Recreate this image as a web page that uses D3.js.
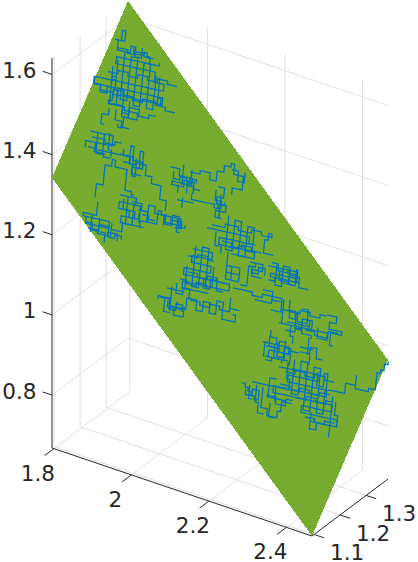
<!DOCTYPE html>
<html><head><meta charset="utf-8">
<script src="https://cdnjs.cloudflare.com/ajax/libs/d3/7.8.5/d3.min.js"></script>
<style>html,body{margin:0;padding:0;background:#fff}svg{display:block}</style>
</head><body><svg id="c" width="418" height="562"></svg>
<script>
const xLimits=[1.795,2.466], yLimits=[1.092,1.384], zLimits=[0.668,1.641];
const xTicks=[1.8,2,2.2,2.4], yTicks=[1.1,1.2,1.3], zTicks=[0.8,1,1.2,1.4,1.6];
const xTickLabels=["1.8","2","2.2","2.4"], yTickLabels=["1.1","1.2","1.3"], zTickLabels=["0.8","1","1.2","1.4","1.6"];
const planeX=[1.795,2.466,2.466,1.795], planeY=[1.092,1.092,1.384,1.384], planeZ=[1.342,0.668,0.965,1.641];
const walkY=1.2;
const stepX=0.0085, stepZEast=0.001, stepYNorth=0.00135, stepZNorth=0.0078;
const walkStartX=[1.885,1.911,1.877,1.880,1.870,1.821,1.841,1.898,1.919,1.841,1.826,1.877,1.877,1.898,1.919,1.945,1.955,1.931,1.916,2.027,2.063,2.079,2.045,2.060,2.084,2.071,2.151,2.159,2.122,2.179,2.177,2.187,2.086,2.094,2.071,1.996,2.019,2.032,2.014,2.027,2.068,2.184,2.189,2.264,2.208,2.233,2.280,2.303,2.267,2.246,2.321,2.308,2.442,2.432,2.329,2.367,2.337,2.388,2.267,2.272,2.288,2.298,2.326,2.339,2.362,2.386,2.388,2.308,2.342,2.349,2.447,2.213,2.239,2.267,2.277,2.285,2.233,2.435,
1.867,1.893,1.846,1.880,1.888,1.893,1.939,2.001,1.833,1.826,1.872,1.815,1.906,1.908,1.810,1.846,1.815,1.908,1.929,1.970,2.017,2.032,2.037,2.084,2.045,2.187,2.146,2.135,2.161,2.177,2.146,2.073,2.073,2.053,2.115,2.045,2.001,2.022,2.045,2.079,2.239,2.290,2.311,2.280,2.357,2.337,2.324,2.375,2.352,2.409,2.319,2.285,2.275,2.306,2.362,2.272,2.324,2.311,2.352,2.375,2.332,2.409,2.391,2.455,2.223,2.251,2.275,2.300,2.285];
const walkStartZ=[1.665,1.642,1.561,1.597,1.488,1.415,1.417,1.383,1.350,1.245,1.207,1.204,1.187,1.281,1.283,1.259,1.250,1.364,1.349,1.393,1.410,1.397,1.317,1.327,1.347,1.360,1.384,1.366,1.272,1.321,1.230,1.196,1.208,1.218,1.160,1.053,1.088,1.095,1.062,1.046,1.054,1.118,1.144,1.299,1.158,1.223,1.229,1.239,1.165,1.133,1.157,1.096,1.117,1.156,1.105,1.150,1.162,1.129,1.035,1.034,1.071,1.037,1.057,1.098,1.053,1.084,1.042,0.986,0.992,1.017,0.957,0.915,0.926,0.922,0.901,0.951,0.916,0.970,
1.578,1.646,1.526,1.502,1.490,1.616,1.664,1.607,1.554,1.402,1.427,1.374,1.366,1.399,1.185,1.206,1.171,1.274,1.274,1.262,1.272,1.262,1.384,1.404,1.352,1.438,1.374,1.284,1.252,1.242,1.270,1.186,1.146,1.122,1.145,1.109,1.060,1.059,1.062,1.078,1.215,1.240,1.229,1.194,1.244,1.133,1.083,1.100,1.123,1.116,1.132,1.056,1.027,1.045,1.041,0.992,0.979,0.944,0.923,0.883,1.006,1.006,0.901,0.947,0.906,0.922,0.905,0.931,0.888];
const walkMoves=["e3n3ws3ws3e4n2es2e3nese s2e3nsw3w10s2e12s3e3s2w21s2e21s2w15s2wse5se4s2w4s3we3","s14e2n13e2s14e2n13e2s13e2n10","s7e2n5e2s8e2n5","s5","s2w2s3e","e7s3w8s2n2e3s2e8","s6e2n6","e3n3es4e2n3es5w3s2e3","w4n2ws2w2s6w2s4","s4w4se8s2w7n2","s5","s4","e3n3","e5s2w5s2e5s2w4s2e7","s8e2n6e2s5","e3n2e2s2enese6s2w5n2s2e2n2s2e2n2s4e","e2se2","s3en4e3s3e2s2e3s4e2s3","s6e2se","e3s2e4s2w6se2s2","s6","e3ne3s2e2n3e2n2e2nes3e3s4w3s2","e5","s3","s2e7se2","e2s2","e2s3w2s2e3s2w3s2e2","s7","e13s2e2w11s2e11s2w7","s10e2n9e2s10e2n9e2s7","s4e4s4w4n4s2e4","s4","e6s2w6s2e6s2w8s2e14s2w14s2e8","s12e2n12e2s11e2n6","s7","ne4","e5","s7","s4e2","e5","n3e3s3e2n3e2s3e2n4e2s5e4n2w","s4","e6se3ne6s4w3","e3nws2ws4e3","e2n6e2n","e4s2w3s2e3","e9s2w8se9","s6e2n6e2s5e2n5","e3s3","e5ne3","s7","e15","s4e","e3s2w2s2e4sw3","e7","e2s4w3n3","s3e2s2","s3","e8s2w6s2we7","s4","s2e2s2","s4","s6","s3es2","e4","s5","s3","e7","e8s2w9s2e12s2w16s2e18s2w9s2e11s2w8","s10e2n10e2s14e2n13e2s13e2n7","s12","esesesese","e11","s6e2s2e3n2en3e3","e6","e2w2s6","s4e","e5n3e3n3s4e4ne2n5enen2en",
"e3ne3se3ne3se3ne3se3","e3se2ne3se3","e4ne3se3se3ne4se3se3","e3s2e2n2e3s2e3ne2","s3e2s2wn","s5wsens4es2","s3e2n3","s6es2wn3","s2e2s2e2n2e2s3","e4se3ne2","s5es2","e2se3se2","e2n2es3e2n2es2","s2e2s2e2n2","e2s2e2n2e3s3e2ne2s","s4e2s3","e3se3ne3s2","s3e2s2e3n2","e3s2e2s3w2s2","s3e3n3e2s3","s3e2n3e2s3e2n","e3s2w2","s2e2ne2sene2s","s4ws3","e2n2e3s2e2","e2s3e2n3","s3e2s2wne2n","e4ne4se4ne3s","e3se3ne3se3","e3ne2se3","s4e2s2","e3ne3se2","e3se3ne3se3","e2se3ne3s","s3e2n3e2s3e2","s3e2n2e2s3","e3s3e2n2e2s2","s2e2s2e3n3","s2e2","e3se3ne3se3ne3","s2e2n2e2s2","e2s2e3nse3s","s3e3n2e3s3e3","e2ne2se3","s4","e3ne3se3ne2","e3ne2se3s","e3se4n2e3","s3e2n3e3s3","s3e3n2","e2s2e2n2","s3e3n2e2","e4se3ne3","s4e2n3e2s5","e3n2e2s3e2","e2ne3s","e3ne3se3ne3se3","e3se3ne3se3ne3","e3ne3se3ne2","e3se3ne3","s5es3","s4e2n4es6","s5e2n2","s4es2","s2e2n2e2s3","s5es3e2","e3s2e3n2e2","s4","s4e2"];

const screenXfromX=d3.scaleLinear().domain(xLimits).range([52,312]);
const screenYfromX=d3.scaleLinear().domain(xLimits).range([448,536]);
const screenXfromY=d3.scaleLinear().domain(yLimits).range([0,76]);
const screenYfromY=d3.scaleLinear().domain(yLimits).range([0,-57]);
const screenYfromZ=d3.scaleLinear().domain(zLimits).range([0,-390]);
const P=(x,y,z)=>[screenXfromX(x)+screenXfromY(y),screenYfromX(x)+screenYfromY(y)+screenYfromZ(z)];

const svg=d3.select("#c");
const [x0,x1]=xLimits,[y0,y1]=yLimits,[z0,z1]=zLimits;
const seg=(g,a,b,col)=>g.append("line").attr("x1",a[0]).attr("y1",a[1]).attr("x2",b[0]).attr("y2",b[1]).attr("stroke",col).attr("stroke-width",1);
const grid=svg.append("g");const gc="#dfdfdf";
xTicks.forEach(x=>{seg(grid,P(x,y0,z0),P(x,y1,z0),gc);seg(grid,P(x,y1,z0),P(x,y1,z1),gc);});
yTicks.forEach(y=>{seg(grid,P(x0,y,z0),P(x1,y,z0),gc);seg(grid,P(x0,y,z0),P(x0,y,z1),gc);});
zTicks.forEach(z=>{seg(grid,P(x0,y0,z),P(x0,y1,z),gc);seg(grid,P(x0,y1,z),P(x1,y1,z),gc);});
const ax=svg.append("g");const ac="#262626";
seg(ax,P(x0,y0,z0),P(x1,y0,z0),ac);seg(ax,P(x1,y0,z0),P(x1,y1,z0),ac);seg(ax,P(x0,y0,z0),P(x0,y0,z1),ac);
xTicks.forEach(x=>seg(ax,P(x,y0,z0),P(x,y0-0.036,z0),ac));
yTicks.forEach(y=>seg(ax,P(x1,y,z0),P(x1+0.026,y,z0),ac));
zTicks.forEach(z=>seg(ax,P(x0,y0,z),P(x0-0.024,y0,z),ac));

svg.append("polygon").attr("points",planeX.map((x,i)=>P(x,planeY[i],planeZ[i]).join(",")).join(" ")).attr("fill","#77AC30").attr("shape-rendering","crispEdges");

const line=d3.line();
const walk=svg.append("g").attr("fill","none").attr("stroke","#0072BD").attr("stroke-width",1.25).attr("stroke-linejoin","miter");
walkMoves.forEach((m,k)=>{
  let x=walkStartX[k],y=walkY,z=walkStartZ[k];const pts=[P(x,y,z)];
  for(const t of m.matchAll(/([ensw])(\d*)/g)){
    const c=t[2]?+t[2]:1;
    for(let i=0;i<c;i++){
      if(t[1]==="e"){x+=stepX;z+=stepZEast;}
      if(t[1]==="w"){x-=stepX;z-=stepZEast;}
      if(t[1]==="n"){y+=stepYNorth;z+=stepZNorth;}
      if(t[1]==="s"){y-=stepYNorth;z-=stepZNorth;}
      pts.push(P(x,y,z));
    }
  }
  walk.append("path").attr("d",line(pts));
});

const labels=svg.append("g").attr("font-family","'DejaVu Sans'").attr("font-size",21.5).attr("fill","#262626");
const text=(s,px,py,anchor)=>labels.append("text").attr("x",px).attr("y",py).attr("text-anchor",anchor).text(s);
xTicks.forEach((x,i)=>{const p=P(x,y0,z0);text(xTickLabels[i],p[0]-16,p[1]+32,"middle");});
yTicks.forEach((y,i)=>{const p=P(x1,y,z0);text(yTickLabels[i],p[0]+33,p[1]+26,"middle");});
zTicks.forEach((z,i)=>{const p=P(x0,y0,z);text(zTickLabels[i],36.5,p[1]+3.5,"end");});
</script></body></html>
